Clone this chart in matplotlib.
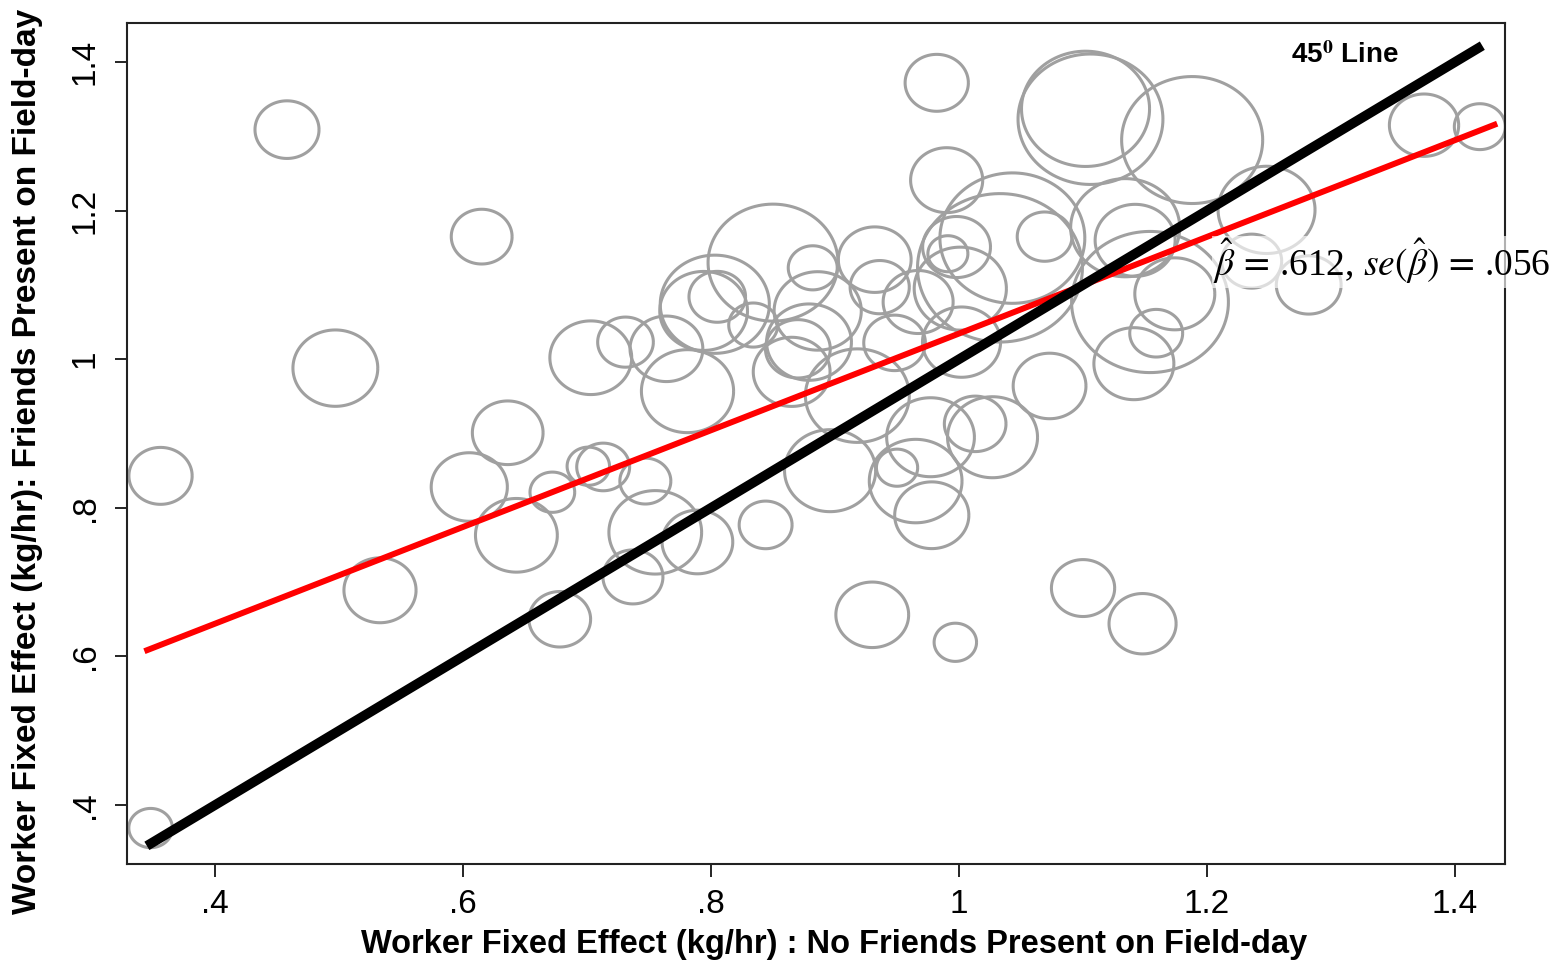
import numpy as np
import matplotlib
matplotlib.use("Agg")
from matplotlib import pyplot as plt
from matplotlib.path import Path

plt.rcParams["font.family"] = ["Liberation Sans", "DejaVu Sans"]
plt.rcParams["mathtext.fontset"] = "stix"

# worker fixed effects: no friends present (x) vs friends present (y), bubble weight
fe_no_friends = [0.348, 0.356, 0.458, 0.497, 0.615, 0.636, 0.605, 0.643, 0.533, 0.678,
                 0.672, 0.701, 0.713, 0.747, 0.703, 0.731, 0.764, 0.781, 0.755, 0.789,
                 0.737, 0.844, 0.896, 0.850, 0.803, 0.805, 0.794, 0.834, 0.882, 0.932,
                 0.936, 0.886, 0.865, 0.879, 0.870, 0.918, 0.950, 0.965, 0.978, 0.977,
                 1.027, 1.013, 0.930, 0.997, 1.100, 1.148, 1.102, 1.106, 1.188, 1.248,
                 1.375, 1.420, 1.236, 1.282, 1.174, 1.159, 1.141, 1.154, 1.142, 1.134,
                 1.073, 1.069, 1.043, 1.033, 0.998, 0.991, 0.982, 0.990, 1.001, 1.002,
                 0.948, 0.967]
fe_friends = [0.369, 0.843, 1.309, 0.988, 1.165, 0.901, 0.828, 0.763, 0.689, 0.650,
              0.821, 0.856, 0.855, 0.836, 1.002, 1.023, 1.014, 0.957, 0.767, 0.754,
              0.707, 0.777, 0.850, 1.130, 1.074, 1.084, 1.065, 1.046, 1.123, 1.134,
              1.097, 1.065, 0.983, 1.023, 1.014, 0.951, 0.854, 0.836, 0.790, 0.895,
              0.895, 0.913, 0.656, 0.619, 0.692, 0.644, 1.337, 1.323, 1.295, 1.201,
              1.315, 1.313, 1.132, 1.100, 1.088, 1.035, 0.994, 1.077, 1.160, 1.177,
              0.964, 1.165, 1.163, 1.123, 1.151, 1.142, 1.372, 1.241, 1.095, 1.023,
              1.022, 1.077]
weights = [19, 40, 41, 72, 37, 50, 58, 67, 52, 38,
           20, 18, 28, 26, 67, 31, 53, 85, 86, 50,
           36, 28, 83, 169, 119, 32, 77, 24, 24, 53,
           35, 76, 59, 72, 42, 108, 17, 86, 55, 77,
           81, 38, 53, 18, 40, 45, 164, 210, 199, 94,
           48, 26, 36, 42, 64, 28, 64, 246, 64, 119,
           53, 30, 210, 272, 46, 16, 40, 52, 85, 61,
           38, 49]

# fitted line and 45 degree line endpoints
fit_x = [0.343, 1.434]
fit_y = [0.607, 1.317]
diag = [0.345, 1.422]

xticks = [0.4, 0.6, 0.8, 1.0, 1.2, 1.4]
xtick_labels = [".4", ".6", ".8", "1", "1.2", "1.4"]
yticks = [0.4, 0.6, 0.8, 1.0, 1.2, 1.4]
ytick_labels = [".4", ".6", ".8", "1", "1.2", "1.4"]

fig = plt.figure(figsize=(15.57, 9.63), dpi=100)
ax = fig.add_axes([0.0816, 0.1028, 0.8850, 0.8733])

theta = np.linspace(0, 2 * np.pi, 120)
ell = Path(np.column_stack([np.cos(theta), 0.9 * np.sin(theta)]))

ax.scatter(fe_no_friends, fe_friends, s=np.array(weights) * 51.84, marker=ell,
           facecolors="none", edgecolors="#a0a0a0", linewidths=2.2, zorder=2)
ax.plot(fit_x, fit_y, color="red", lw=4.3, solid_capstyle="butt", zorder=3)
ax.plot(diag, diag, color="black", lw=7, solid_capstyle="butt", zorder=4)

ax.text(1.311, 1.409, r"45$^{\mathbf{0}}$ Line", fontsize=20, fontweight="bold",
        ha="center", va="center", zorder=5)
ax.text(1.205, 1.131, r"$\hat{\beta}\,=\,$.612, $se(\hat{\beta})\,=\,$.056",
        fontsize=27, family=["Liberation Serif", "DejaVu Serif"],
        ha="left", va="center", zorder=5,
        bbox=dict(facecolor="white", edgecolor="none", alpha=0.65, pad=1))

ax.set_xlim(0.329, 1.4403)
ax.set_ylim(0.3206, 1.4525)
ax.set_xticks(xticks)
ax.set_xticklabels(xtick_labels)
ax.set_yticks(yticks)
ax.set_yticklabels(ytick_labels, rotation=90, va="center")
ax.tick_params(axis="both", direction="out", length=9, width=1.2, labelsize=24, color="black")
ax.tick_params(axis="x", pad=9)
ax.tick_params(axis="y", pad=10)
for sp in ax.spines.values():
    sp.set_linewidth(1.5)
    sp.set_color("#222222")

fig.text(834 / 1557, 1 - 944 / 963,
         "Worker Fixed Effect (kg/hr) : No Friends Present on Field-day",
         fontsize=23.5, fontweight="bold", ha="center", va="center")
fig.text(28 / 1557, 1 - 461 / 963,
         "Worker Fixed Effect (kg/hr): Friends Present on Field-day",
         fontsize=24, fontweight="bold", ha="center", va="center", rotation=90)

fig.savefig("out.png", dpi=100, facecolor="white")
